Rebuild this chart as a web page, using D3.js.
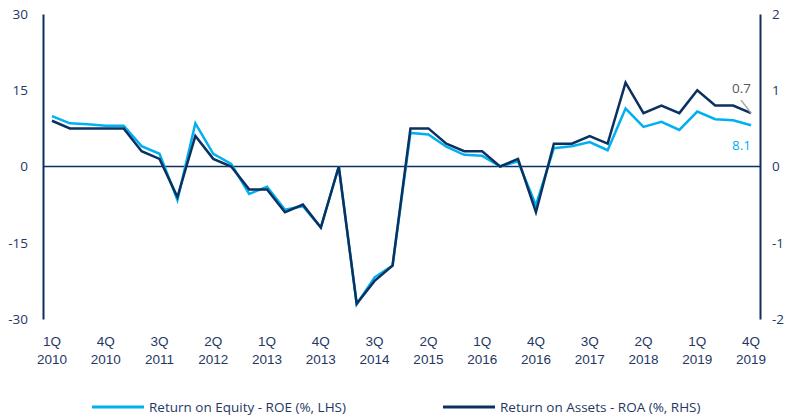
<!DOCTYPE html>
<html>
<head>
<meta charset="utf-8">
<script src="https://cdn.jsdelivr.net/npm/d3@7"></script>
<style>
  body { margin: 0; background: #fff; }
  svg { display: block; font-family: "Open Sans", sans-serif; }
</style>
</head>
<body>
<svg id="chart" width="790" height="417"></svg>
<script>
const WIDTH = 790
const HEIGHT = 417

// Data
const quarters = [
  "1Q 2010", "2Q 2010", "3Q 2010", "4Q 2010",
  "1Q 2011", "2Q 2011", "3Q 2011", "4Q 2011",
  "1Q 2012", "2Q 2012", "3Q 2012", "4Q 2012",
  "1Q 2013", "2Q 2013", "3Q 2013", "4Q 2013",
  "1Q 2014", "2Q 2014", "3Q 2014", "4Q 2014",
  "1Q 2015", "2Q 2015", "3Q 2015", "4Q 2015",
  "1Q 2016", "2Q 2016", "3Q 2016", "4Q 2016",
  "1Q 2017", "2Q 2017", "3Q 2017", "4Q 2017",
  "1Q 2018", "2Q 2018", "3Q 2018", "4Q 2018",
  "1Q 2019", "2Q 2019", "3Q 2019", "4Q 2019"
]
const roe = [9.9, 8.5, 8.3, 8.0, 8.0, 4.0, 2.5, -6.6, 8.5, 2.5, 0.5, -5.4, -4.0, -8.5, -7.8, -12.0,
  0.0, -27.1, -21.8, -19.5, 6.6, 6.3, 3.9, 2.3, 2.1, 0.0, 1.0, -7.6, 3.6, 4.0, 4.8, 3.2,
  11.4, 7.8, 8.8, 7.2, 10.8, 9.3, 9.1, 8.1]
const roa = [0.6, 0.5, 0.5, 0.5, 0.5, 0.2, 0.1, -0.4, 0.4, 0.1, 0.0, -0.3, -0.3, -0.6, -0.5, -0.8,
  0.0, -1.8, -1.5, -1.3, 0.5, 0.5, 0.3, 0.2, 0.2, 0.0, 0.1, -0.6, 0.3, 0.3, 0.4, 0.3,
  1.1, 0.7, 0.8, 0.7, 1.0, 0.8, 0.8, 0.7]
const leftTicks = [-30, -15, 0, 15, 30]
const rightTicks = [-2, -1, 0, 1, 2]
const seriesNames = ["Return on Equity - ROE (%, LHS)", "Return on Assets - ROA (%, RHS)"]

// Constants
const margin = { top: 14, right: 30, bottom: 98, left: 43 }
const lightBlue = "#00b0f0"
const navy = "#0b3160"
const textColor = "#1f3864"
const fmtTick = d => String(d)

const x = d3.scaleBand(quarters, [margin.left, WIDTH - margin.right])
const xc = d => x(d) + x.bandwidth() / 2
const yL = d3.scaleLinear([-30, 30], [HEIGHT - margin.bottom, margin.top])
const yR = d3.scaleLinear([-2, 2], [HEIGHT - margin.bottom, margin.top])

const svg = d3.select("#chart")

// Left axis
svg.append("g")
  .attr("transform", `translate(${margin.left},0)`)
  .call(d3.axisLeft(yL).tickValues(leftTicks).tickFormat(fmtTick).tickSize(0).tickPadding(15))
  .call(g => g.select(".domain").attr("stroke", navy).attr("stroke-width", 2))
  .call(g => g.selectAll("text").attr("fill", textColor).attr("font-size", 13.5).attr("font-family", "Open Sans"))

// Right axis
svg.append("g")
  .attr("transform", `translate(${WIDTH - margin.right},0)`)
  .call(d3.axisRight(yR).tickValues(rightTicks).tickFormat(fmtTick).tickSize(0).tickPadding(12))
  .call(g => g.select(".domain").attr("stroke", navy).attr("stroke-width", 2))
  .call(g => g.selectAll("text").attr("fill", textColor).attr("font-size", 13.5).attr("font-family", "Open Sans"))

// Zero line
svg.append("line")
  .attr("x1", margin.left).attr("x2", WIDTH - margin.right)
  .attr("y1", yL(0)).attr("y2", yL(0))
  .attr("stroke", navy).attr("stroke-width", 1.5)

// X axis labels
svg.append("g")
  .attr("transform", `translate(0,${HEIGHT - margin.bottom})`)
  .call(d3.axisBottom(x).tickValues(quarters.filter((d, i) => i % 3 === 0)).tickSize(0).tickFormat(() => ""))
  .call(g => g.select(".domain").remove())
  .call(g => g.selectAll(".tick").append("text")
    .attr("fill", textColor)
    .attr("font-size", 13.5)
    .attr("text-anchor", "middle")
    .selectAll("tspan")
    .data(d => d.split(" "))
    .join("tspan")
      .attr("x", 0)
      .attr("y", (d, i) => 27 + i * 18)
      .text(d => d))

// Lines
const lineL = d3.line().x((d, i) => xc(quarters[i])).y(d => yL(d))
const lineR = d3.line().x((d, i) => xc(quarters[i])).y(d => yR(d))

svg.append("path")
  .attr("d", lineL(roe))
  .attr("fill", "none")
  .attr("stroke", lightBlue)
  .attr("stroke-width", 2.5)

svg.append("path")
  .attr("d", lineR(roa))
  .attr("fill", "none")
  .attr("stroke", navy)
  .attr("stroke-width", 2.5)

// End labels
const last = quarters.length - 1
const lx = xc(quarters[last])
svg.append("line")
  .attr("x1", lx - 10).attr("y1", yR(roa[last]) - 13)
  .attr("x2", lx).attr("y2", yR(roa[last]))
  .attr("stroke", "#a6a6a6").attr("stroke-width", 1.5)
svg.append("text")
  .attr("x", lx).attr("y", yR(roa[last]) - 20)
  .attr("text-anchor", "end")
  .attr("fill", "#595959").attr("font-size", 13.5)
  .text(d3.format(".1f")(roa[last]))
svg.append("text")
  .attr("x", lx).attr("y", yL(roe[last]) + 25)
  .attr("text-anchor", "end")
  .attr("fill", lightBlue).attr("font-size", 13.5)
  .text(d3.format(".1f")(roe[last]))

// Legend
const legend = svg.append("g")
  .selectAll("g")
  .data(seriesNames)
  .join("g")
    .attr("transform", (d, i) => `translate(${92 + i * 351},407)`)
legend.append("line")
  .attr("x2", 52)
  .attr("stroke", (d, i) => i ? navy : lightBlue)
  .attr("stroke-width", 3)
legend.append("text")
  .attr("x", 57).attr("dy", "0.35em")
  .attr("fill", textColor).attr("font-size", 13.5)
  .text(d => d)
</script>
</body>
</html>
